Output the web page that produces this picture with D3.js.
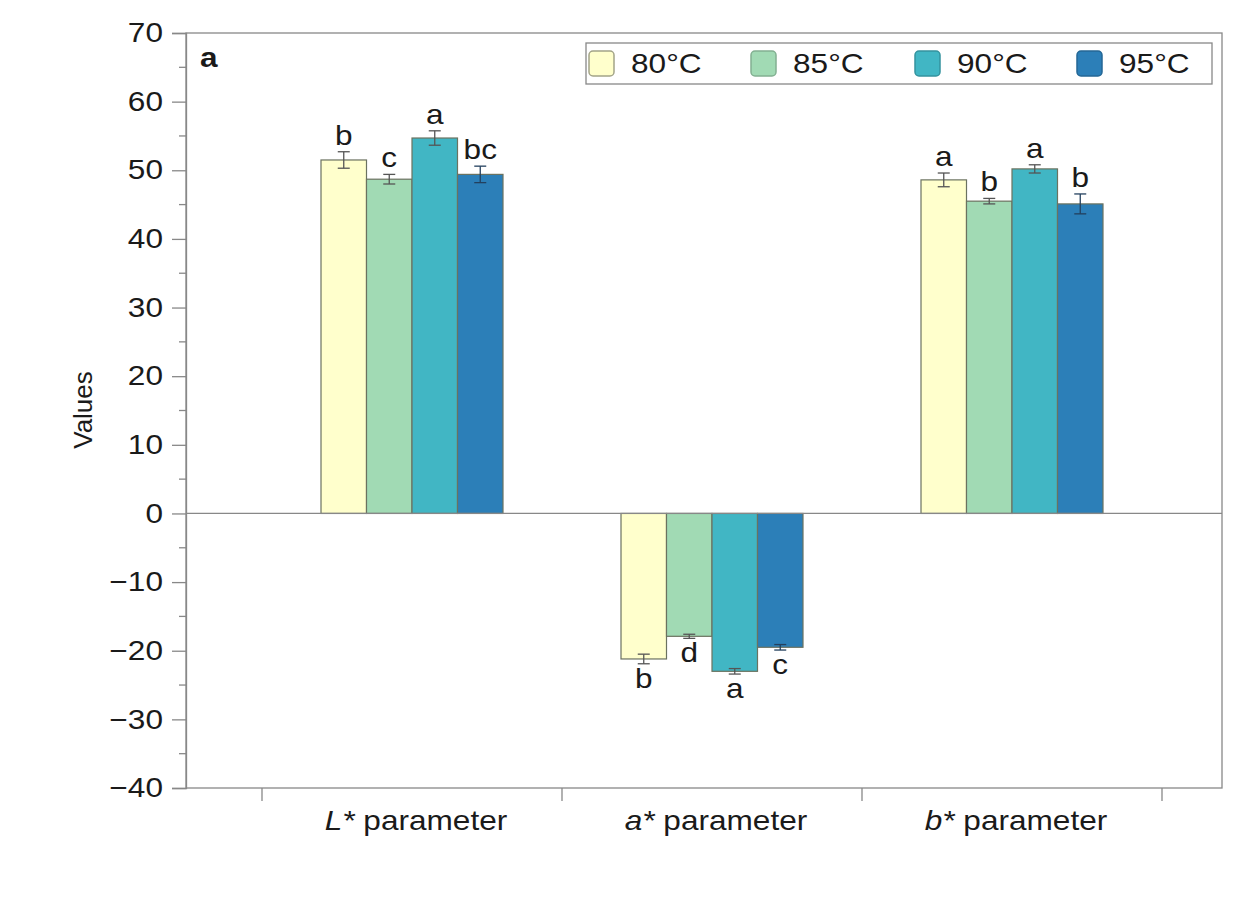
<!DOCTYPE html>
<html><head><meta charset="utf-8">
<script src="https://cdn.jsdelivr.net/npm/d3@7"></script>
<style>body{margin:0;background:#fff;} text{font-family:"Liberation Sans",Arial,sans-serif;}</style>
</head><body>
<svg id="c" width="1247" height="901"></svg>
<script>
const categories = ["L*", "a*", "b*"];
const series = ["80°C", "85°C", "90°C", "95°C"];
const colors = ["#ffffcc", "#a1dab4", "#41b6c4", "#2c7fb8"];
const v80 = [51.5, -21.2, 48.6];
const v85 = [48.7, -17.9, 45.5];
const v90 = [54.7, -23.0, 50.2];
const v95 = [49.4, -19.5, 45.1];
const e80 = [1.2, 0.7, 1.0];
const e85 = [0.7, 0.3, 0.4];
const e90 = [1.05, 0.4, 0.6];
const e95 = [1.2, 0.4, 1.45];
const l80 = ["b", "b", "a"];
const l85 = ["c", "d", "b"];
const l90 = ["a", "a", "a"];
const l95 = ["bc", "c", "b"];
const yTicks = [-40, -30, -20, -10, 0, 10, 20, 30, 40, 50, 60, 70];

const SX = 1.17, FS = 27;
const vals = [v80, v85, v90, v95], errs = [e80, e85, e90, e95], lets = [l80, l85, l90, l95];
const svg = d3.select("#c");
const L = 186, R = 1222, T = 33, B = 788;
const y = d3.scaleLinear().domain([-40, 70]).range([B, T]);
const x = d3.scaleBand().domain(categories).range([262, 1162]).padding(0);
const gw = 182;
const xs = d3.scaleBand().domain(series).range([0, gw]).padding(0);

function stretch(sel) {
  sel.each(function () {
    const t = d3.select(this);
    const tx = +t.attr("x") || 0, ty = +t.attr("y") || 0;
    t.attr("x", 0).attr("y", 0).attr("transform", `translate(${tx},${ty}) scale(${SX},1)`);
  });
}

// frame
svg.append("rect").attr("x", L).attr("y", T).attr("width", R - L).attr("height", B - T)
  .attr("fill", "none").attr("stroke", "#888").attr("stroke-width", 1.3);

// y axis
const ya = svg.append("g").attr("transform", `translate(${L},0)`)
  .call(d3.axisLeft(y).tickValues(yTicks).tickSize(14).tickPadding(9).tickFormat(d => d < 0 ? "\u2212" + Math.abs(d) : d));
ya.select(".domain").attr("stroke", "#888").attr("stroke-width", 1.3);
ya.selectAll(".tick line").attr("stroke", "#888").attr("stroke-width", 1.3);
ya.selectAll("text").attr("font-size", FS).attr("fill", "#1a1a1a").attr("font-family", "Liberation Sans, Arial, sans-serif");
stretch(ya.selectAll("text"));
const minor = d3.range(-35, 70, 10);
svg.append("g").selectAll("line").data(minor).join("line")
  .attr("x1", L - 7).attr("x2", L).attr("y1", d => y(d)).attr("y2", d => y(d))
  .attr("stroke", "#888").attr("stroke-width", 1.3);

// x axis ticks at band boundaries
const bnds = categories.map(c => x(c)).concat([x(categories[categories.length - 1]) + x.bandwidth()]);
svg.append("g").selectAll("line").data(bnds).join("line")
  .attr("x1", d => d).attr("x2", d => d).attr("y1", B).attr("y2", B + 13)
  .attr("stroke", "#888").attr("stroke-width", 1.3);
const xl = svg.append("g").selectAll("text").data(categories).join("text")
  .attr("x", d => x(d) + x.bandwidth() / 2 + 4).attr("y", 830).attr("text-anchor", "middle")
  .attr("font-size", FS).attr("fill", "#1a1a1a");
xl.append("tspan").attr("font-style", "italic").text(d => d);
xl.append("tspan").text(" parameter");
stretch(xl);

// bars
const off = (x.bandwidth() - gw) / 2;
series.forEach((s, si) => {
  const g = svg.append("g");
  categories.forEach((c, ci) => {
    const v = vals[si][ci], e = errs[si][ci];
    const bx = x(c) + off + xs(s), bw = xs.bandwidth();
    g.append("rect").attr("x", bx).attr("y", Math.min(y(v), y(0))).attr("width", bw)
      .attr("height", Math.abs(y(v) - y(0))).attr("fill", colors[si])
      .attr("stroke", "#6b7260").attr("stroke-width", 1.2);
    const cx = bx + bw / 2;
    const ec = si === 3 ? "#23405e" : "#555";
    g.append("line").attr("x1", cx).attr("x2", cx).attr("y1", y(v - e)).attr("y2", y(v + e)).attr("stroke", ec).attr("stroke-width", 1.3);
    [v - e, v + e].forEach(t => g.append("line").attr("x1", cx - 6).attr("x2", cx + 6).attr("y1", y(t)).attr("y2", y(t)).attr("stroke", ec).attr("stroke-width", 1.3));
    const ly = v >= 0 ? y(v + e) - 7 : y(v - e) + 24;
    g.append("text").attr("x", cx).attr("y", ly).attr("text-anchor", "middle")
      .attr("font-size", FS).attr("fill", "#1a1a1a").text(lets[si][ci]);
  });
  stretch(g.selectAll("text"));
});

// zero line
svg.append("line").attr("x1", L).attr("x2", R).attr("y1", y(0)).attr("y2", y(0)).attr("stroke", "#888").attr("stroke-width", 1.3);

// panel label
stretch(svg.append("text").attr("x", 200).attr("y", 67).attr("font-size", FS).attr("font-weight", "bold").attr("fill", "#1a1a1a").text("a"));

// y label
svg.append("text").attr("transform", "translate(92,410) rotate(-90)").attr("text-anchor", "middle")
  .attr("font-size", 26).attr("fill", "#1a1a1a").text("Values");

// legend
const lg = svg.append("g");
lg.append("rect").attr("x", 586).attr("y", 43).attr("width", 626).attr("height", 41).attr("fill", "#fff").attr("stroke", "#888").attr("stroke-width", 1.3);
const lx = [589, 751, 915, 1077];
series.forEach((s, i) => {
  lg.append("rect").attr("x", lx[i]).attr("y", 51).attr("width", 25).attr("height", 25).attr("rx", 4)
    .attr("fill", colors[i]).attr("stroke", i === 0 ? "#a3a488" : d3.color(colors[i]).darker(0.6)).attr("stroke-width", 1.5);
  stretch(lg.append("text").attr("x", lx[i] + 42).attr("y", 73).attr("font-size", FS).attr("fill", "#1a1a1a").text(s));
});
</script>
</body></html>
